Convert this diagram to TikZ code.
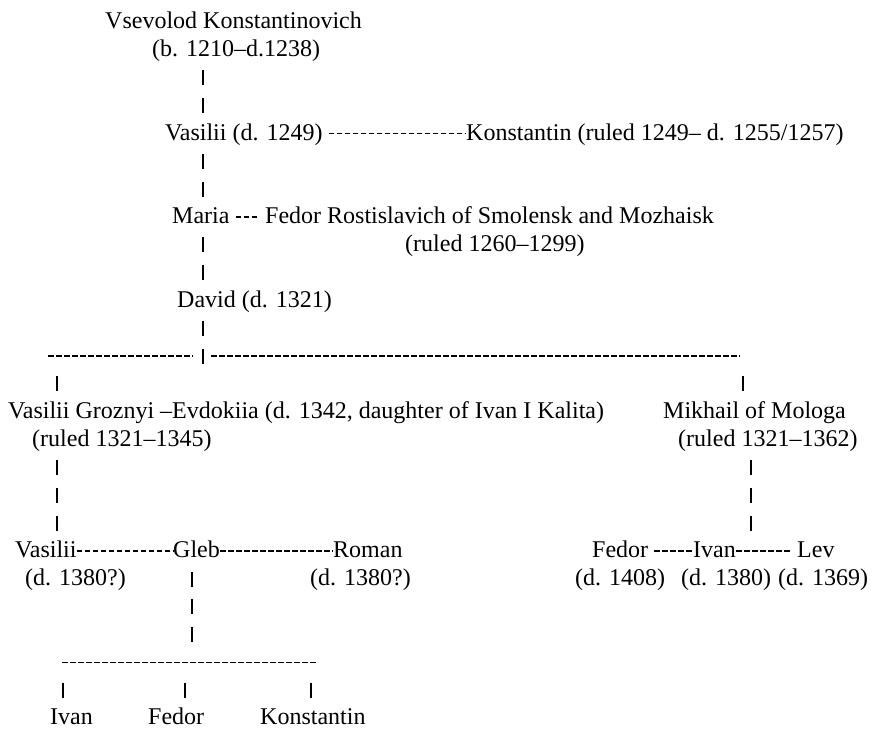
\documentclass[tikz,border=0pt]{standalone}
\usepackage{fontspec}
\setmainfont{Liberation Serif}
\usetikzlibrary{positioning}

\tikzset{
  entry/.style={anchor=west, inner sep=0pt, text height=20.9pt, text depth=6.94pt, font=\fontsize{24}{28}\selectfont},
  pipes/.style={line width=1.2pt, dash pattern=on 15pt off 12.84pt, dash phase=21.42pt},
  hyph/.style={line width=1.5pt, dash pattern=on 5.5pt off 2.5pt},
}

\begin{document}
\begin{tikzpicture}[x=1pt, y=-27.84pt]
    \useasboundingbox (0,-0.79) rectangle (873,25.575);

    % Vsevolod
    \node[entry] (vsevolod) at (105,0) {Vsevolod Konstantinovich};
    \node[entry] (vsevolodDates) at (152,1) {(b. 1210–d.1238)};

    % Vasilii e Konstantin
    \node[entry] (vasilii) at (165,4) {Vasilii (d. 1249)};
    \node[entry] (konstantin) at (466,4) {Konstantin (ruled 1249– d. 1255/1257)};

    % Maria e Fedor
    \node[entry] (maria) at (172,7) {Maria};
    \node[entry] (fedorR) at (265,7) {Fedor Rostislavich of Smolensk and Mozhaisk};
    \node[entry] (fedorRDates) at (405,8) {(ruled 1260–1299)};

    % David
    \node[entry] (david) at (177,10) {David (d. 1321)};

    % Vasilii Groznyi e Mikhail
    \node[entry] (vasiliiG) at (8,14) {Vasilii Groznyi –Evdokiia (d. 1342, daughter of Ivan I Kalita)};
    \node[entry] (vasiliiGDates) at (32,15) {(ruled 1321–1345)};
    \node[entry] (mikhail) at (663,14) {Mikhail of Mologa};
    \node[entry] (mikhailDates) at (678,15) {(ruled 1321–1362)};

    % Figli di Vasilii Groznyi
    \node[entry] (vasiliiJr) at (15,19) {Vasilii};
    \node[entry] (vasiliiJrDates) at (25,20) {(d. 1380?)};
    \node[entry] (gleb) at (173,19) {Gleb};
    \node[entry] (roman) at (333,19) {Roman};
    \node[entry] (romanDates) at (310,20) {(d. 1380?)};

    % Figli di Mikhail
    \node[entry] (fedorM) at (592,19) {Fedor};
    \node[entry] (fedorMDates) at (575,20) {(d. 1408)};
    \node[entry] (ivanM) at (693,19) {Ivan};
    \node[entry] (ivanMDates) at (681,20) {(d. 1380)};
    \node[entry] (lev) at (797,19) {Lev};
    \node[entry] (levDates) at (778,20) {(d. 1369)};

    % Figli di Gleb
    \node[entry] (ivanG) at (50,25) {Ivan};
    \node[entry] (fedorG) at (148,25) {Fedor};
    \node[entry] (konstantinG) at (260,25) {Konstantin};

    % Linee
    \coordinate (trunk) at (203,12);
    \coordinate (barL) at (48,12);
    \coordinate (barR) at (740,12);
    \coordinate (leftline) at (57,12);
    \coordinate (rightline) at (743,12);
    \coordinate (mikhailLine) at (751,16);
    \coordinate (glebLine) at (192,20);
    \coordinate (kidsL) at (62,23);
    \coordinate (kidsR) at (318,23);

    \draw[pipes] (vsevolodDates.south -| trunk) -- (vasilii.north -| trunk);
    \draw[pipes] (vasilii.south -| trunk) -- (maria.north -| trunk);
    \draw[pipes] (maria.south -| trunk) -- (david.north -| trunk);
    \draw[pipes] (david.south -| trunk) -- ([yshift=-13.92pt]trunk);
    \draw[hyph] (barL) -- ([xshift=-10pt]trunk);
    \draw[hyph] ([xshift=8pt]trunk) -- (barR);
    \draw[pipes] ([yshift=-13.92pt]leftline) -- (vasiliiG.north -| leftline);
    \draw[pipes] ([yshift=-13.92pt]rightline) -- (mikhail.north -| rightline);
    \draw[pipes] (vasiliiGDates.south -| leftline) -- (vasiliiJr.north -| leftline);
    \draw[pipes] (mikhailDates.south -| mikhailLine) -- (fedorM.north -| mikhailLine);

    \draw[hyph, shorten <=6pt] (vasilii.east) -- (konstantin.west);
    \draw[hyph, shorten <=6pt, shorten >=6pt] (maria.east) -- (fedorR.west);
    \draw[hyph] (vasiliiJr.east) -- (gleb.west);
    \draw[hyph] (gleb.east) -- (roman.west);
    \draw[hyph, shorten <=6pt] (fedorM.east) -- (ivanM.west);
    \draw[hyph, shorten >=6pt] (ivanM.east) -- (lev.west);

    \draw[pipes] (gleb.south -| glebLine) -- ([yshift=13.92pt]kidsL -| glebLine);
    \draw[hyph] (kidsL) -- (kidsR);
    \foreach \kid/\kx in {ivanG/63, fedorG/185, konstantinG/311} {
        \coordinate (\kid-line) at (\kx,23.5);
        \draw[pipes] (\kid-line) -- (\kid.north -| \kid-line);
    }
\end{tikzpicture}
\end{document}
